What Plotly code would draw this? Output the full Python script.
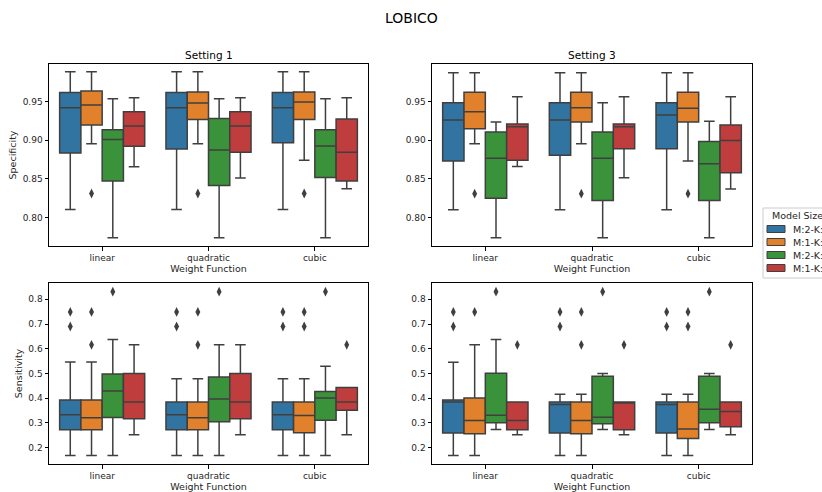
import plotly.graph_objects as go

categories = ["linear", "quadratic", "cubic"]
hues = ["M:2-K:1", "M:1-K:2", "M:2-K:2", "M:1-K:1"]
colors = ["#3274a1", "#e1812c", "#3a923a", "#c03d3e"]

# ---- Setting 1, Specificity (rows = hue, cols = category)
s1_spec_lf = [[0.8104, 0.8104, 0.8104], [0.8954, 0.8954, 0.8741], [0.774, 0.774, 0.774], [0.8659, 0.8512, 0.8373]]
s1_spec_q1 = [[0.8837, 0.8889, 0.8967], [0.9197, 0.927, 0.927], [0.8473, 0.8416, 0.852], [0.8923, 0.8845, 0.8473]]
s1_spec_med = [[0.9422, 0.9422, 0.9422], [0.9457, 0.9483, 0.9496], [0.901, 0.8876, 0.8928], [0.9184, 0.9184, 0.8845]]
s1_spec_q3 = [[0.9617, 0.9617, 0.9617], [0.9639, 0.9626, 0.9626], [0.9136, 0.9283, 0.9136], [0.937, 0.937, 0.9275]]
s1_spec_uf = [[0.9886, 0.9886, 0.9886], [0.9886, 0.9886, 0.9886], [0.9539, 0.9539, 0.9539], [0.9552, 0.9552, 0.9552]]
s1_spec_out = [[[], [], []], [[0.8312], [0.8312], [0.8312]], [[], [], []], [[], [], []]]

# ---- Setting 3, Specificity
s3_spec_lf = [[0.8103, 0.8103, 0.8103], [0.8957, 0.8957, 0.8733], [0.7741, 0.7741, 0.7741], [0.866, 0.8517, 0.8371]]
s3_spec_q1 = [[0.8733, 0.8806, 0.8892], [0.9151, 0.9237, 0.9237], [0.825, 0.822, 0.822], [0.8741, 0.8892, 0.8582]]
s3_spec_med = [[0.9263, 0.9263, 0.9328], [0.9371, 0.9422, 0.9414], [0.8767, 0.8767, 0.8698], [0.9177, 0.9177, 0.8996]]
s3_spec_q3 = [[0.9487, 0.9487, 0.9487], [0.9621, 0.9621, 0.9621], [0.9108, 0.9108, 0.8983], [0.9211, 0.9211, 0.9198]]
s3_spec_uf = [[0.9875, 0.9875, 0.9875], [0.9875, 0.9875, 0.9875], [0.9237, 0.9487, 0.9246], [0.9565, 0.9565, 0.9565]]
s3_spec_out = [[[], [], []], [[0.831], [0.831], [0.831]], [[], [], []], [[], [], []]]

# ---- Setting 1, Sensitivity
s1_sens_lf = [[0.168, 0.168, 0.168], [0.168, 0.168, 0.168], [0.168, 0.168, 0.168], [0.2523, 0.2523, 0.2523]]
s1_sens_q1 = [[0.2725, 0.2725, 0.2725], [0.2725, 0.2725, 0.2604], [0.3221, 0.3047, 0.3114], [0.3168, 0.3168, 0.3517]]
s1_sens_med = [[0.333, 0.333, 0.333], [0.3208, 0.321, 0.3302], [0.4295, 0.3973, 0.4013], [0.3852, 0.3852, 0.3852]]
s1_sens_q3 = [[0.3933, 0.3852, 0.3852], [0.3933, 0.3852, 0.3852], [0.498, 0.4859, 0.4268], [0.5, 0.5, 0.443]]
s1_sens_uf = [[0.5463, 0.4792, 0.4792], [0.5463, 0.4792, 0.4792], [0.6376, 0.616, 0.5289], [0.616, 0.616, 0.443]]
s1_sens_out = [[[0.749, 0.690], [0.749, 0.690], [0.749, 0.690]],
               [[0.749, 0.616], [0.749, 0.616], [0.749, 0.690]],
               [[0.831], [0.831], [0.831]],
               [[], [], [0.616]]]

# ---- Setting 3, Sensitivity
s3_sens_lf = [[0.168, 0.168, 0.168], [0.168, 0.168, 0.168], [0.2738, 0.2738, 0.2738], [0.2523, 0.2523, 0.2523]]
s3_sens_q1 = [[0.259, 0.259, 0.259], [0.2564, 0.2564, 0.2376], [0.3007, 0.2966, 0.3007], [0.2725, 0.2725, 0.2846]]
s3_sens_med = [[0.3852, 0.3745, 0.3745], [0.31, 0.31, 0.2752], [0.3315, 0.3235, 0.3557], [0.31, 0.385, 0.3463]]
s3_sens_q3 = [[0.3933, 0.385, 0.385], [0.4013, 0.385, 0.385], [0.5007, 0.4886, 0.4886], [0.385, 0.385, 0.385]]
s3_sens_uf = [[0.546, 0.416, 0.416], [0.616, 0.416, 0.416], [0.6376, 0.5, 0.5], [0.385, 0.385, 0.385]]
s3_sens_out = [[[0.749, 0.690], [0.749, 0.690], [0.749, 0.690]],
               [[0.749], [0.749, 0.616], [0.749, 0.690]],
               [[0.831], [0.831], [0.831]],
               [[0.616], [0.616], [0.616]]]

panels = [
    ("x", "y", s1_spec_lf, s1_spec_q1, s1_spec_med, s1_spec_q3, s1_spec_uf, s1_spec_out),
    ("x2", "y2", s3_spec_lf, s3_spec_q1, s3_spec_med, s3_spec_q3, s3_spec_uf, s3_spec_out),
    ("x3", "y3", s1_sens_lf, s1_sens_q1, s1_sens_med, s1_sens_q3, s1_sens_uf, s1_sens_out),
    ("x4", "y4", s3_sens_lf, s3_sens_q1, s3_sens_med, s3_sens_q3, s3_sens_uf, s3_sens_out),
]

EDGE = "#3f3f3f"
offsets = [-0.3, -0.1, 0.1, 0.3]
fig = go.Figure()
for xa, ya, lf, q1, med, q3, uf, out in panels:
    for h in range(4):
        pos = [i + offsets[h] for i in range(len(categories))]
        fig.add_trace(go.Box(
            x=pos, q1=q1[h], median=med[h], q3=q3[h], lowerfence=lf[h], upperfence=uf[h],
            width=0.2, whiskerwidth=0.5, boxpoints=False, orientation="v",
            fillcolor=colors[h], line=dict(color=EDGE, width=1.5),
            name=hues[h], showlegend=False,
            xaxis=xa, yaxis=ya, hoverinfo="skip"))
        ox, oy = [], []
        for i in range(len(categories)):
            for v in out[h][i]:
                ox.append(i + offsets[h])
                oy.append(v)
        if ox:
            fig.add_trace(go.Scatter(
                x=ox, y=oy, mode="markers", showlegend=False, xaxis=xa, yaxis=ya,
                marker=dict(symbol="diamond-tall", size=7, color=EDGE), hoverinfo="skip"))

W, H = 822, 492
FONT = "DejaVu Sans"
TXT = "#262626"
def xd(a, b):
    return [a / W, b / W]
def yd(top, bot):
    return [1 - bot / H, 1 - top / H]
def px(x):
    return x / W
def py(y):
    return 1 - y / H

ax_common = dict(showline=True, mirror=True, linecolor="black", linewidth=1, ticks="outside",
                 ticklen=3.5, tickcolor="black", showgrid=False, zeroline=False,
                 tickfont=dict(family=FONT, size=9, color=TXT))
xcommon = dict(ax_common, range=[-0.5, 2.5], tickvals=[0, 1, 2], ticktext=categories,
               title=dict(text="Weight Function", font=dict(family=FONT, size=9.5, color=TXT), standoff=1))

# manual legend (matplotlib style, clipped at the right edge like the reference)
shapes = [dict(type="rect", xref="paper", yref="paper", x0=px(763), x1=px(840), y0=py(278), y1=py(208),
               line=dict(color="#cccccc", width=1), fillcolor="white", layer="above")]
annotations = [dict(text="Model Size", x=px(797), y=py(216), xref="paper", yref="paper", showarrow=False,
                    font=dict(family=FONT, size=9.5, color=TXT), xanchor="center", yanchor="middle")]
for k, (name, col) in enumerate(zip(hues, colors)):
    yc = 229 + 13 * k
    shapes.append(dict(type="rect", xref="paper", yref="paper", x0=px(767), x1=px(785),
                       y0=py(yc + 3.5), y1=py(yc - 3.5), line=dict(color=EDGE, width=1),
                       fillcolor=col, layer="above"))
    annotations.append(dict(text=name, x=px(791), y=py(yc), xref="paper", yref="paper", showarrow=False,
                            font=dict(family=FONT, size=9.5, color=TXT), xanchor="left", yanchor="middle"))

annotations += [
    dict(text="LOBICO", x=0.5, y=py(18), xref="paper", yref="paper", showarrow=False,
         font=dict(family=FONT, size=14, color="black"), xanchor="center", yanchor="middle"),
    dict(text="Setting 1", x=(49 + 368) / 2 / W, y=py(55), xref="paper", yref="paper", showarrow=False,
         font=dict(family=FONT, size=10.5, color="black"), xanchor="center", yanchor="middle"),
    dict(text="Setting 3", x=(432 + 752) / 2 / W, y=py(55), xref="paper", yref="paper", showarrow=False,
         font=dict(family=FONT, size=10.5, color="black"), xanchor="center", yanchor="middle"),
]

fig.update_layout(
    width=W, height=H, margin=dict(l=0, r=0, t=0, b=0, autoexpand=False),
    plot_bgcolor="white", paper_bgcolor="white", boxmode="overlay", showlegend=False,
    font=dict(family=FONT, color=TXT),
    xaxis=dict(xcommon, domain=xd(49, 368), anchor="y"),
    xaxis2=dict(xcommon, domain=xd(432, 752), anchor="y2"),
    xaxis3=dict(xcommon, domain=xd(49, 368), anchor="y3"),
    xaxis4=dict(xcommon, domain=xd(432, 752), anchor="y4"),
    yaxis=dict(ax_common, domain=yd(64, 246), anchor="x", range=[0.7633, 0.9987],
               tickvals=[0.80, 0.85, 0.90, 0.95], tickformat=".2f",
               title=dict(text="Specificity", font=dict(family=FONT, size=9.5, color=TXT), standoff=4)),
    yaxis2=dict(ax_common, domain=yd(64, 246), anchor="x2", range=[0.7633, 0.9987],
                tickvals=[0.80, 0.85, 0.90, 0.95], tickformat=".2f"),
    yaxis3=dict(ax_common, domain=yd(283, 464), anchor="x3", range=[0.134, 0.866],
                tickvals=[0.2, 0.3, 0.4, 0.5, 0.6, 0.7, 0.8], tickformat=".1f",
                title=dict(text="Sensitivity", font=dict(family=FONT, size=9.5, color=TXT), standoff=4)),
    yaxis4=dict(ax_common, domain=yd(283, 464), anchor="x4", range=[0.134, 0.866],
                tickvals=[0.2, 0.3, 0.4, 0.5, 0.6, 0.7, 0.8], tickformat=".1f"),
    shapes=shapes,
    annotations=annotations,
)

fig.write_html("out.html", config={"displayModeBar": False},
               post_script="document.body.style.margin='0';document.body.style.overflow='hidden';")
